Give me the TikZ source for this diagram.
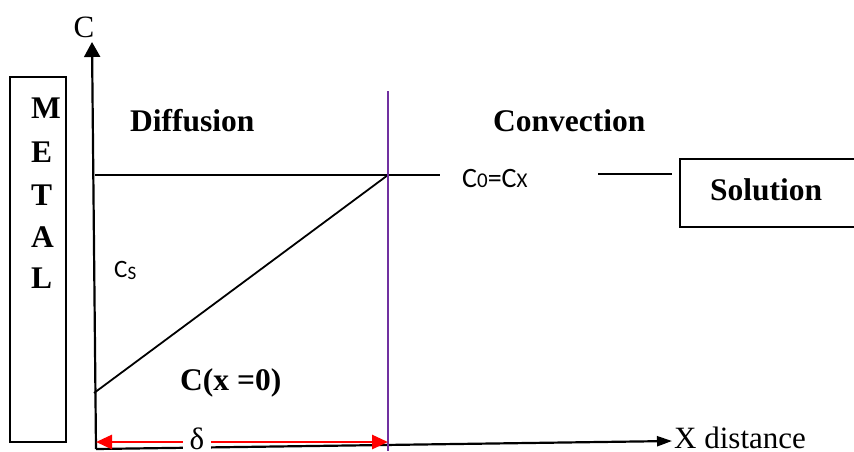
\documentclass[tikz,border=0pt]{standalone}
\usepackage{fontspec}
\setmainfont{Liberation Serif}
\newfontfamily\calfont{Carlito}
\usetikzlibrary{arrows.meta}
\definecolor{lilac}{RGB}{112,48,160}
\definecolor{signal}{RGB}{255,0,0}
\tikzset{
  axis/.style={line width=2.2pt,-{Triangle[length=15pt,width=#1]}},
  axis/.default=16pt,
  line/.style={line width=1.8pt},
  txt/.style={font=\fontsize{31}{34}\selectfont,anchor=base west,inner sep=0pt},
  bold txt/.style={txt,font=\fontsize{31.5}{34}\selectfont\bfseries},
  cal/.style={font=\calfont\fontsize{#1}{#1}\selectfont,anchor=base west,inner sep=0pt},
  cal/.default=27,
  dim/.style={signal,line width=2.8pt,{Triangle[length=16pt,width=14pt]}-{Triangle[length=16pt,width=14pt]}},
}

\begin{document}
\begin{tikzpicture}[x=1pt,y=-1pt]
  \useasboundingbox (0,0) rectangle (854,451);
  % metal side
  \draw[line width=1.8pt] (10,77) rectangle (66,442);
  \foreach \l/\y [count=\i] in {M/118,E/162,T/205,A/247,L/288}
    \node[bold txt] (m\i) at (31,\y) {\l};
  % axes
  \coordinate (O) at (96,449);
  \coordinate (ytip) at (92,42);
  \coordinate (xtip) at (672,441);
  \draw[axis] (O) -- (ytip);
  \draw[axis=10pt] (O) -- (xtip);
  \node[txt,anchor=base] (clab) at (84,37) {C};
  \node[txt] (xlab) at (674,448) {X distance};
  % profile
  \coordinate (cs0) at (94,393);
  \coordinate (c0) at (388,175);
  \coordinate (h0) at (95,175);
  \coordinate (h1) at (440,175);
  \coordinate (h2) at (598,174);
  \coordinate (h3) at (672,174);
  \draw[line] (h0) -- (h1);
  \draw[line] (h2) -- (h3);
  \draw[line] (cs0) -- (c0);
  \draw[lilac,line width=2.2pt] (388,91) -- (388,451);
  % labels
  \node[bold txt] (diff) at (130,131) {Diffusion};
  \node[bold txt] (conv) at (493,131) {Convection};
  \node[bold txt] (cx0) at (180,390) {C(x =0)};
  \node[cal=28] (co) at (462,187) {C{\fontsize{21}{21}\selectfont 0}=C{\fontsize{21}{21}\selectfont X}};
  \node[cal=25] (cs) at (114,277) {C\raisebox{-2.5pt}{\fontsize{19}{19}\selectfont S}};
  % solution box
  \draw[line width=1.8pt] (856,159) -- (680,159) -- (680,227) -- (856,227);
  \node[bold txt] (sol) at (710,200) {Solution};
  % boundary layer
  \coordinate (dl) at (96,442);
  \coordinate (dr) at (388,442);
  \draw[dim] (dl) -- (dr);
  \node[fill=white,inner xsep=7pt,inner ysep=0pt,font=\fontsize{31}{34}\selectfont] (delta) at (197,439) {δ};
\end{tikzpicture}
\end{document}
